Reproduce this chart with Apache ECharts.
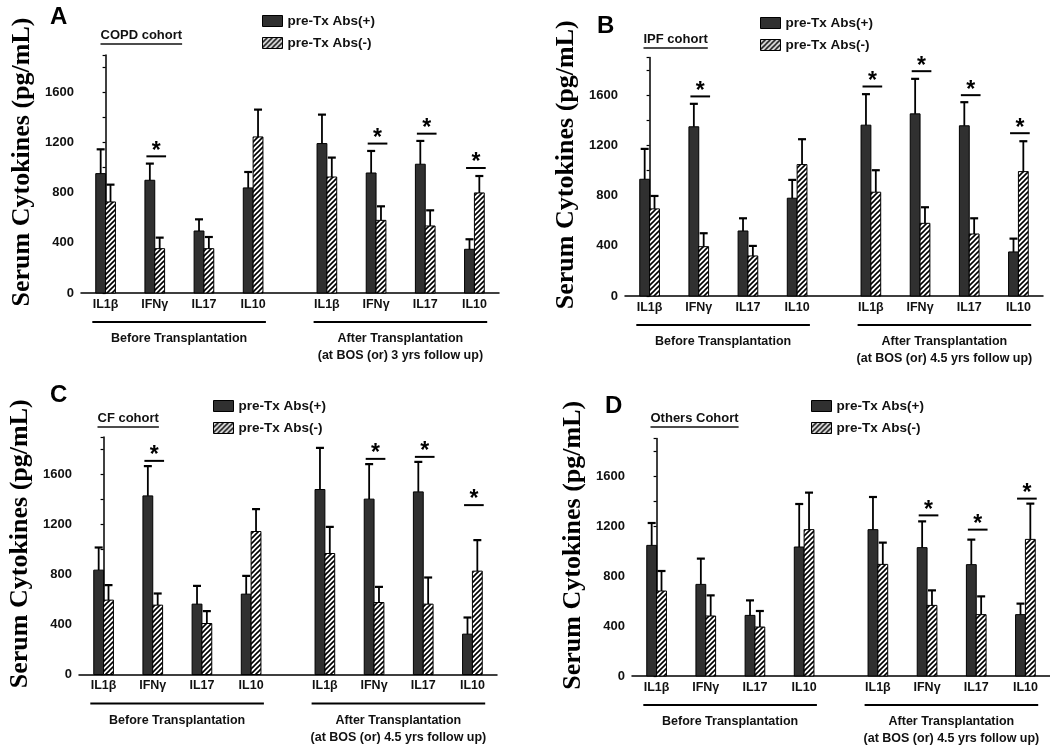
<!DOCTYPE html>
<html>
<head>
<meta charset="utf-8">
<title>Serum cytokines by cohort</title>
<script src="https://cdn.jsdelivr.net/npm/echarts@6.0.0/dist/echarts.min.js"></script>
<style>
    html, body { margin: 0; padding: 0; background: #fff; }
    #chart { width: 1050px; height: 754px; }
</style>
</head>
<body>
<div id="chart"></div>
<script>
// x positions: four cytokines before Tx, then a gap, four after Tx
let cytokines = ['IL1β', 'IFNγ', 'IL17', 'IL10'];
let positions = [0, 1, 2, 3, 4.5, 5.5, 6.5, 7.5];
let groupSpans = [[0, 3], [4.5, 7.5]];
let groupTitles = ['Before Transplantation', 'After Transplantation'];
let legendNames = ['pre-Tx Abs(+)', 'pre-Tx Abs(-)'];

// A - COPD
let copdPos = [953, 900, 495, 839, 1193, 958, 1028, 349];
let copdPosErr = [194, 133, 93, 127, 231, 176, 186, 80];
let copdNeg = [727, 354, 354, 1246, 926, 580, 535, 799];
let copdNegErr = [138, 88, 93, 218, 155, 112, 125, 135];
let copdSig = [[1, 1091], [5.5, 1193], [6.5, 1272], [7.5, 998]];

// B - IPF
let ipfPos = [930, 1348, 518, 779, 1361, 1451, 1356, 351];
let ipfPosErr = [242, 183, 101, 146, 247, 279, 188, 106];
let ipfNeg = [694, 393, 319, 1047, 827, 579, 494, 991];
let ipfNegErr = [103, 107, 80, 202, 175, 128, 125, 242];
let ipfSig = [[1, 1590], [4.5, 1669], [5.5, 1791], [6.5, 1600], [7.5, 1297]];

// C - CF
let cfPos = [835, 1429, 563, 643, 1480, 1403, 1461, 323];
let cfPosErr = [181, 238, 146, 146, 333, 280, 240, 133];
let cfNeg = [595, 555, 408, 1144, 968, 576, 563, 827];
let cfNegErr = [120, 93, 99, 179, 213, 125, 213, 248];
let cfSig = [[1, 1709], [5.5, 1725], [6.5, 1741], [7.5, 1355]];

// D - others
let othPos = [1045, 733, 485, 1032, 1171, 1027, 891, 491];
let othPosErr = [179, 206, 120, 344, 261, 210, 200, 88];
let othNeg = [680, 480, 392, 1171, 893, 565, 491, 1093];
let othNegErr = [160, 165, 128, 296, 174, 120, 146, 286];
let othSig = [[5.5, 1285], [6.5, 1171], [7.5, 1419]];

let SANS = '"Liberation Sans", Arial, sans-serif';
let SERIF = '"Liberation Serif", "Times New Roman", serif';
let DARK = '#303030';
let BAR_W = 0.2;

let makeHatch = function () {
    let s = 5;
    let c = document.createElement('canvas');
    c.width = s;
    c.height = s;
    let ctx = c.getContext('2d');
    ctx.fillStyle = '#fff';
    ctx.fillRect(0, 0, s, s);
    ctx.strokeStyle = '#000';
    ctx.lineWidth = 1.6;
    ctx.beginPath();
    ctx.moveTo(-1, s + 1); ctx.lineTo(s + 1, -1);
    ctx.moveTo(-1, 1); ctx.lineTo(1, -1);
    ctx.moveTo(s - 1, s + 1); ctx.lineTo(s + 1, s - 1);
    ctx.stroke();
    return {image: c, repeat: 'repeat'};
};
let hatch = makeHatch();

let measure = (function () {
    let ctx = document.createElement('canvas').getContext('2d');
    return function (text, font) {
        ctx.font = font;
        return ctx.measureText(text).width;
    };
})();

let tickName = {};
positions.forEach(function (p, i) {
    tickName[p] = cytokines[i % cytokines.length];
});

let panels = [
    {letter: 'A', cohort: 'COPD cohort', followUp: '(at BOS (or) 3 yrs follow up)',
        pos: copdPos, posErr: copdPosErr, neg: copdNeg, negErr: copdNegErr, sig: copdSig,
        grid: {left: 81, top: 55, width: 418, height: 238}, letterAt: [50, 5], cohortAt: [98, 29], legendAt: [262, 14]},
    {letter: 'B', cohort: 'IPF cohort', followUp: '(at BOS (or) 4.5 yrs follow up)',
        pos: ipfPos, posErr: ipfPosErr, neg: ipfNeg, negErr: ipfNegErr, sig: ipfSig,
        grid: {left: 625, top: 57.5, width: 418, height: 238.5}, letterAt: [597, 14], cohortAt: [641, 33], legendAt: [760, 16]},
    {letter: 'C', cohort: 'CF cohort', followUp: '(at BOS (or) 4.5 yrs follow up)',
        pos: cfPos, posErr: cfPosErr, neg: cfNeg, negErr: cfNegErr, sig: cfSig,
        grid: {left: 79, top: 437, width: 418, height: 237.5}, letterAt: [50, 383], cohortAt: [95, 412], legendAt: [213, 399]},
    {letter: 'D', cohort: 'Others Cohort', followUp: '(at BOS (or) 4.5 yrs follow up)',
        pos: othPos, posErr: othPosErr, neg: othNeg, negErr: othNegErr, sig: othSig,
        grid: {left: 632, top: 438.5, width: 418, height: 237.5}, letterAt: [605, 394], cohortAt: [648, 412], legendAt: [811, 399]}
];

let barItem = function (side, fill) {
    return function (params, api) {
        let x = api.value(0), v = api.value(1), e = api.value(2);
        let w = api.size([BAR_W, 0])[0];
        let base = api.coord([x, 0]);
        let top = api.coord([x, v]);
        let errTop = api.coord([x, v + e]);
        let left = side < 0 ? base[0] - w : base[0];
        let cx = left + w / 2;
        return {
            type: 'group',
            children: [
                {type: 'rect', shape: {x: left, y: top[1], width: w, height: base[1] - top[1]},
                    style: {fill: fill, stroke: '#000', lineWidth: 1}},
                {type: 'line', shape: {x1: cx, y1: top[1], x2: cx, y2: errTop[1]},
                    style: {stroke: '#000', lineWidth: 1.8}},
                {type: 'line', shape: {x1: cx - 4, y1: errTop[1], x2: cx + 4, y2: errTop[1]},
                    style: {stroke: '#000', lineWidth: 2.2}}
            ]
        };
    };
};

let sigItem = function (params, api) {
    let x = api.value(0), y = api.value(1);
    let a = api.coord([x - 0.17, y]);
    let b = api.coord([x + 0.23, y]);
    return {
        type: 'group',
        children: [
            {type: 'line', shape: {x1: a[0], y1: a[1], x2: b[0], y2: b[1]},
                style: {stroke: '#000', lineWidth: 2}},
            {type: 'text', x: (a[0] + b[0]) / 2, y: a[1] - 5,
                style: {text: '*', font: 'bold 23px ' + SANS, align: 'center', verticalAlign: 'middle', fill: '#000'}}
        ]
    };
};

let groupItem = function (followUp) {
    return function (params, api) {
        let a = api.coord([api.value(0) - 0.27, 0]);
        let b = api.coord([api.value(1) + 0.26, 0]);
        let mid = (a[0] + b[0]) / 2;
        let lines = [groupTitles[params.dataIndex]];
        if (params.dataIndex === 1) {
            lines.push(followUp);
        }
        let children = [{type: 'line', shape: {x1: a[0], y1: a[1] + 29, x2: b[0], y2: b[1] + 29},
            style: {stroke: '#000', lineWidth: 2}}];
        lines.forEach(function (t, i) {
            children.push({type: 'text', x: mid, y: a[1] + 46 + 17 * i,
                style: {text: t, font: 'bold 12.5px ' + SANS, align: 'center', verticalAlign: 'middle', fill: '#111'}});
        });
        return {type: 'group', children: children};
    };
};

let grids = [], xAxes = [], yAxes = [], series = [], legends = [], graphics = [];

panels.forEach(function (p, i) {
    grids.push(Object.assign({outerBoundsMode: 'none', containLabel: false}, p.grid));
    xAxes.push({
        gridIndex: i, type: 'value', min: -0.5, max: 8, interval: 0.5,
        axisLine: {show: true, onZero: false, lineStyle: {color: '#000', width: 1.5}},
        axisTick: {show: false},
        splitLine: {show: false},
        axisLabel: {
            formatter: function (v) { return tickName[v] || ''; },
            fontFamily: SANS, fontWeight: 'bold', fontSize: 12.5, color: '#111', margin: 5
        }
    });
    yAxes.push({
        gridIndex: i, type: 'value', min: 0, max: 1900, interval: 200,
        axisLine: {show: true, lineStyle: {color: '#000', width: 1.5}},
        axisTick: {show: true, length: 3, lineStyle: {color: '#000', width: 1.2}},
        splitLine: {show: false},
        axisLabel: {
            formatter: function (v) { return (v % 400 === 0 && v <= 1600) ? String(v) : ''; },
            fontFamily: SANS, fontWeight: 'bold', fontSize: 13, color: '#111', margin: 7
        },
        name: 'Serum Cytokines (pg/mL)', nameLocation: 'middle', nameGap: 46, nameRotate: 90,
        nameTextStyle: {fontFamily: SERIF, fontWeight: 'bold', fontSize: 26, color: '#000', padding: [0, 0, 0, 24]}
    });
    series.push({
        name: legendNames[0], type: 'custom', xAxisIndex: i, yAxisIndex: i,
        itemStyle: {color: DARK},
        renderItem: barItem(-1, DARK),
        data: positions.map(function (x, k) { return [x, p.pos[k], p.posErr[k]]; })
    });
    series.push({
        name: legendNames[1], type: 'custom', xAxisIndex: i, yAxisIndex: i,
        itemStyle: {color: '#fff'},
        renderItem: barItem(1, hatch),
        data: positions.map(function (x, k) { return [x, p.neg[k], p.negErr[k]]; })
    });
    series.push({
        name: 'sig', type: 'custom', xAxisIndex: i, yAxisIndex: i, silent: true,
        renderItem: sigItem, data: p.sig
    });
    series.push({
        name: 'groups', type: 'custom', xAxisIndex: i, yAxisIndex: i, silent: true,
        renderItem: groupItem(p.followUp), data: groupSpans
    });
    legends.push({
        left: p.legendAt[0], top: p.legendAt[1], padding: 0, orient: 'vertical',
        itemWidth: 20, itemHeight: 11, itemGap: 8, selectedMode: false,
        textStyle: {fontFamily: SANS, fontWeight: 'bold', fontSize: 13.5, color: '#111'},
        data: [
            {name: legendNames[0], icon: 'rect', itemStyle: {color: DARK, borderColor: '#000', borderWidth: 1}},
            {name: legendNames[1], icon: 'rect', itemStyle: {color: hatch, borderColor: '#000', borderWidth: 1}}
        ]
    });
    let cohortFont = 'bold 13px ' + SANS;
    let cw = measure(p.cohort, cohortFont);
    graphics.push({
        type: 'text', left: p.letterAt[0], top: p.letterAt[1],
        style: {text: p.letter, font: 'bold 24px ' + SANS, fill: '#000'}
    });
    graphics.push({
        type: 'group', left: p.cohortAt[0], top: p.cohortAt[1],
        children: [
            {type: 'text', x: 0, y: 0, style: {text: p.cohort, font: cohortFont, fill: '#111'}},
            {type: 'line', shape: {x1: 0, y1: 15, x2: cw, y2: 15}, style: {stroke: '#111', lineWidth: 1.5}}
        ]
    });
});

let chart = echarts.init(document.getElementById('chart'));
chart.setOption({
    animation: false,
    backgroundColor: '#fff',
    grid: grids,
    xAxis: xAxes,
    yAxis: yAxes,
    legend: legends,
    graphic: graphics,
    series: series
});
</script>
</body>
</html>
